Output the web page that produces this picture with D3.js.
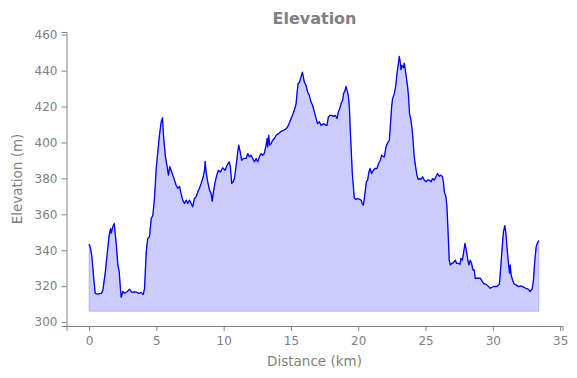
<!DOCTYPE html>
<html>
<head>
<meta charset="utf-8">
<script src="https://cdn.jsdelivr.net/npm/d3@7"></script>
<style>
  body { margin: 0; background: #fff; }
  text { font-family: "DejaVu Sans", sans-serif; fill: #808080; }
  .axis path, .axis line { stroke: #808080; }
</style>
</head>
<body>
<div id="chart"></div>
<script>
// distance along the track (km)
const distanceKm = [
  0.00, 0.11, 0.21, 0.36, 0.46, 0.65, 0.91, 1.02, 1.20, 1.35, 1.50, 1.60, 1.65, 1.77, 1.87, 1.94,
  2.04, 2.14, 2.24, 2.34, 2.39, 2.51, 2.64, 2.84, 3.01, 3.18, 3.38, 3.58, 3.70, 3.88, 4.02, 4.12,
  4.25, 4.36, 4.49, 4.62, 4.74, 4.86, 4.99, 5.11, 5.23, 5.36, 5.46, 5.53, 5.66, 5.80, 5.90, 6.00,
  6.10, 6.22, 6.35, 6.47, 6.59, 6.72, 6.84, 6.96, 7.09, 7.22, 7.33, 7.46, 7.59, 7.70, 7.83, 7.96,
  8.08, 8.20, 8.33, 8.45, 8.57, 8.63, 8.70, 8.82, 8.95, 9.07, 9.15, 9.24, 9.37, 9.49, 9.61, 9.76,
  9.93, 10.11, 10.26, 10.41, 10.50, 10.60, 10.71, 10.80, 10.93, 11.05, 11.12, 11.23, 11.34, 11.49,
  11.67, 11.79, 11.91, 12.04, 12.16, 12.29, 12.41, 12.53, 12.66, 12.78, 12.90, 13.03, 13.15, 13.23,
  13.27, 13.35, 13.42, 13.53, 13.64, 13.77, 13.90, 14.07, 14.27, 14.46, 14.66, 14.81, 14.96, 15.11,
  15.25, 15.38, 15.46, 15.53, 15.63, 15.75, 15.85, 15.92, 16.00, 16.12, 16.24, 16.37, 16.49, 16.61,
  16.74, 16.87, 16.98, 17.11, 17.24, 17.43, 17.61, 17.68, 17.78, 17.91, 18.02, 18.17, 18.30, 18.42,
  18.52, 18.62, 18.72, 18.84, 18.91, 19.02, 19.09, 19.17, 19.26, 19.34, 19.41, 19.49, 19.56, 19.64,
  19.71, 19.84, 19.95, 20.10, 20.21, 20.30, 20.38, 20.45, 20.53, 20.60, 20.70, 20.77, 20.87, 20.99,
  21.12, 21.25, 21.39, 21.51, 21.64, 21.74, 21.84, 21.94, 22.06, 22.18, 22.31, 22.38, 22.48, 22.55,
  22.68, 22.77, 22.88, 22.98, 23.05, 23.12, 23.18, 23.25, 23.35, 23.42, 23.50, 23.57, 23.67, 23.74,
  23.81, 23.92, 24.01, 24.09, 24.16, 24.26, 24.36, 24.46, 24.56, 24.66, 24.78, 24.91, 25.04, 25.15,
  25.28, 25.41, 25.52, 25.65, 25.77, 25.89, 26.02, 26.14, 26.26, 26.34, 26.39, 26.52, 26.59, 26.69,
  26.76, 26.84, 26.96, 27.08, 27.21, 27.30, 27.43, 27.56, 27.63, 27.73, 27.82, 27.93, 28.03, 28.12,
  28.22, 28.32, 28.42, 28.52, 28.62, 28.69, 29.06, 29.31, 29.56, 29.80, 30.05, 30.30, 30.49, 30.67,
  30.79, 30.89, 30.97, 31.04, 31.09, 31.16, 31.24, 31.29, 31.36, 31.46, 31.59, 31.71, 31.88, 32.08,
  32.28, 32.45, 32.63, 32.77, 32.92, 33.02, 33.12, 33.22, 33.32, 33.42
];

// elevation (m) at each distance
const elevationM = [
  343.5, 341.0, 336.5, 323.5, 316.0, 315.5, 316.0, 317.5, 327.2, 338.3, 348.5, 352.2, 349.5, 353.1, 354.9, 349.5,
  342.0, 331.8, 328.1, 317.9, 313.8, 317.0, 316.0, 317.0, 318.3, 316.5, 316.8, 316.5, 316.0, 316.5, 315.3, 318.5,
  339.2, 346.5, 347.5, 357.7, 359.5, 368.8, 385.5, 394.8, 404.0, 411.5, 413.7, 404.0, 392.9, 386.5, 381.8, 386.5,
  384.5, 381.8, 379.0, 376.2, 374.5, 375.5, 371.5, 367.9, 366.0, 367.9, 366.0, 367.9, 366.0, 364.2, 368.8, 369.8,
  372.5, 374.5, 377.2, 379.9, 384.0, 389.5, 383.5, 378.1, 373.5, 371.5, 367.3, 372.5, 378.1, 381.8, 384.5, 383.5,
  385.9, 384.5, 387.3, 389.2, 386.5, 377.2, 378.1, 379.9, 387.3, 394.8, 398.5, 394.8, 390.1, 391.1,
  391.1, 393.8, 392.0, 392.9, 391.1, 389.2, 391.1, 389.2, 392.0, 393.8, 392.9, 394.0, 398.5, 402.2,
  397.5, 404.0, 398.5, 399.4, 401.2, 402.2, 404.0, 404.9, 406.2, 406.8, 407.7, 409.5, 412.3, 415.1,
  417.9, 421.5, 428.1, 432.7, 433.5, 436.5, 439.2, 436.5, 433.5, 431.8, 428.1, 426.2, 422.5, 420.7,
  417.0, 413.3, 410.5, 411.5, 409.5, 410.5, 409.5, 409.5, 414.2, 415.1, 415.1, 414.5, 415.1, 413.3,
  417.0, 418.8, 421.5, 423.5, 427.2, 429.0, 431.2, 429.0, 426.2, 419.8, 406.8, 393.8, 382.7, 375.3,
  368.8, 368.3, 368.8, 368.3, 367.9, 366.0, 365.1, 368.8, 373.5, 378.1, 379.0, 382.7, 385.5, 382.7,
  384.5, 385.5, 385.5, 388.3, 390.1, 392.9, 392.3, 392.0, 397.5, 399.8, 401.2, 408.5, 419.8, 424.4,
  427.2, 430.9, 438.3, 443.8, 447.9, 444.8, 440.5, 442.9, 441.6, 444.2, 440.1, 436.5, 430.9, 425.3,
  416.1, 412.3, 406.8, 399.4, 392.0, 386.5, 381.8, 379.4, 379.9, 379.4, 380.9, 379.0, 378.1, 379.0,
  379.0, 378.1, 379.9, 379.0, 380.9, 382.7, 381.2, 381.8, 380.9, 377.2, 372.5, 369.8, 364.2, 347.5,
  334.5, 331.8, 332.7, 333.1, 334.5, 332.7, 332.7, 332.2, 335.5, 334.5, 338.3, 343.8, 340.1, 335.5,
  331.8, 334.5, 332.7, 329.0, 329.0, 324.4, 324.4, 321.5, 320.7, 318.8, 319.8, 319.8, 321.0, 339.2,
  350.3, 353.7, 349.5, 342.9, 338.3, 332.7, 327.2, 331.8, 326.2, 323.5, 321.2, 320.7, 319.8, 320.1,
  319.4, 318.8, 318.3, 317.0, 318.3, 323.5, 334.5, 342.0, 344.2, 345.3
];

const xTicks = [0, 5, 10, 15, 20, 25, 30, 35];
const yTicks = [300, 320, 340, 360, 380, 400, 420, 440, 460];
const fillBase = 306;

const width = 577, height = 378;

const profile = distanceKm.map((d, i) => ({km: d, elev: elevationM[i]}));

const svg = d3.select("#chart").append("svg")
    .attr("width", width)
    .attr("height", height);

// scales set to the axes box of the picture
let x = d3.scaleLinear()
    .domain([-1.675, 35.175])
    .range([66.5, 562.5]);

let y = d3.scaleLinear()
    .domain([297.8, 461.5])
    .range([326, 32]);

// filled area under the profile
let area = d3.area()
    .x(d => x(d.km))
    .y0(y(fillBase))
    .y1(d => y(d.elev));

svg.append("path")
    .datum(profile)
    .attr("d", area)
    .attr("fill", "rgba(0,0,255,0.2)")
    .attr("stroke", "rgba(0,0,255,0.2)")
    .attr("stroke-width", 1);

// elevation line
let line = d3.line()
    .x(d => x(d.km))
    .y(d => y(d.elev));

svg.append("path")
    .datum(profile)
    .attr("d", line)
    .attr("fill", "none")
    .attr("stroke", "#0000ff")
    .attr("stroke-width", 1.3)
    .attr("stroke-linejoin", "round");

// axes
let xAxis = d3.axisBottom(x)
    .tickValues(xTicks)
    .tickSizeOuter(0)
    .tickSize(5)
    .tickPadding(5);

let yAxis = d3.axisLeft(y)
    .tickValues(yTicks)
    .tickSizeOuter(0)
    .tickSize(5)
    .tickPadding(4);

let gx = svg.append("g")
    .attr("class", "axis")
    .attr("transform", `translate(0, ${y.range()[0]})`)
    .call(xAxis);

let gy = svg.append("g")
    .attr("class", "axis")
    .attr("transform", `translate(${x.range()[0]}, 0)`)
    .call(yAxis);

svg.selectAll(".axis text")
    .style("font-size", "12px")
    .attr("fill", "#808080");

// axis titles
svg.append("text")
    .attr("x", (x.range()[0] + x.range()[1]) / 2)
    .attr("y", 366)
    .attr("text-anchor", "middle")
    .style("font-size", "13.5px")
    .text("Distance (km)");

svg.append("text")
    .attr("transform", `translate(22, ${(y.range()[0] + y.range()[1]) / 2}) rotate(-90)`)
    .attr("text-anchor", "middle")
    .style("font-size", "13.5px")
    .text("Elevation (m)");

svg.append("text")
    .attr("x", (x.range()[0] + x.range()[1]) / 2)
    .attr("y", 24)
    .attr("text-anchor", "middle")
    .style("font-size", "16px")
    .style("font-weight", "bold")
    .text("Elevation");
</script>
</body>
</html>
